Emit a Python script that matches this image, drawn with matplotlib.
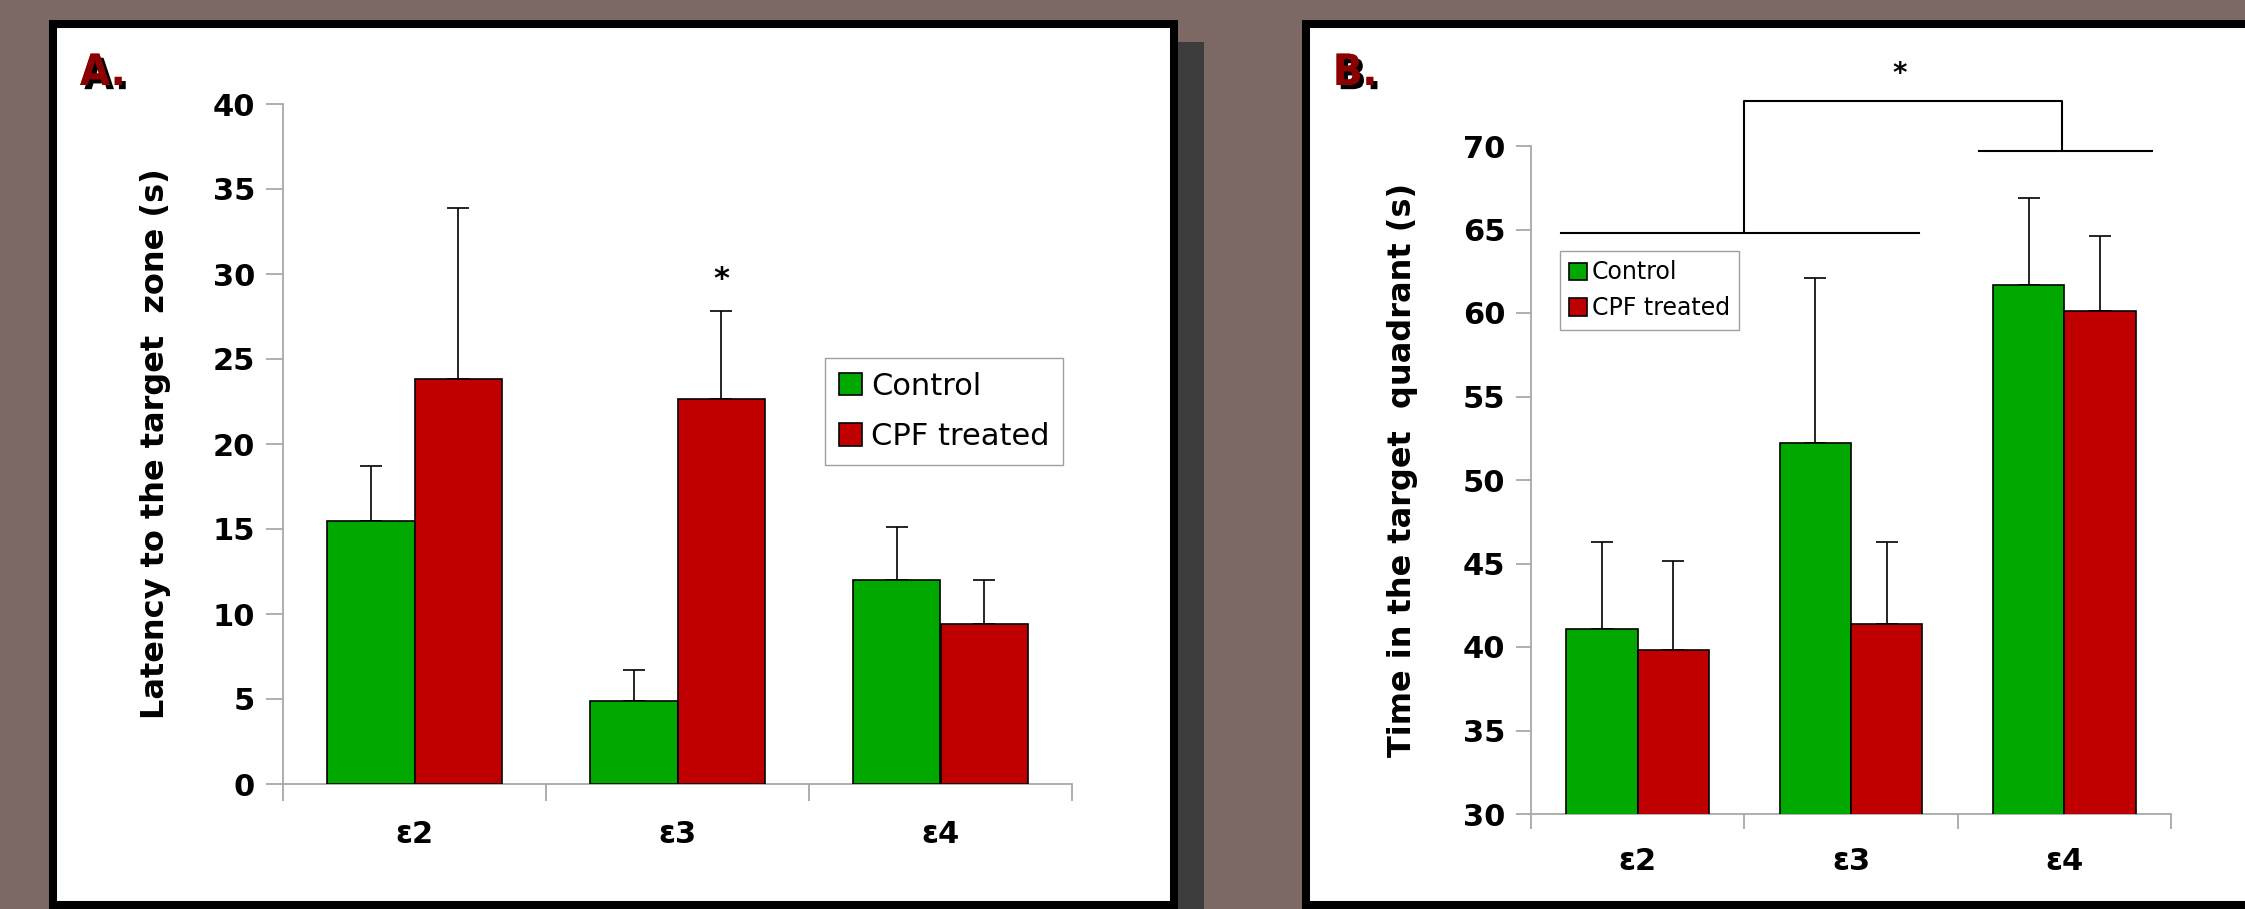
import matplotlib
matplotlib.use('Agg')
import matplotlib.pyplot as plt
import matplotlib.patheffects as pe
from matplotlib.patches import Rectangle
import numpy as np

# data
groups = ['ε2', 'ε3', 'ε4']
series = ['Control', 'CPF treated']

lat_control = [15.5, 4.9, 12.0]
lat_control_err = [3.2, 1.8, 3.1]
lat_cpf = [23.8, 22.65, 9.4]
lat_cpf_err = [10.1, 5.15, 2.6]

quad_control = [41.1, 52.2, 61.7]
quad_control_err = [5.2, 9.9, 5.2]
quad_cpf = [39.8, 41.4, 60.1]
quad_cpf_err = [5.35, 4.9, 4.5]

# significance marks of panel B (x in category units, y in seconds)
sig_left = ([-0.36, 1.32], 64.8)
sig_right = ([1.6, 2.41], 69.7)
sig_bracket = ([0.5, 0.5, 1.99, 1.99], [64.8, 72.7, 72.7, 69.7])

GREEN = '#00a800'
RED = '#c00000'
W, H = 2245, 909

plt.rcParams['font.family'] = ['DejaVu Sans']


def fx(px):
    return px / W


def fy(py):
    return 1 - py / H


def panel(ax, ctrl, ctrl_err, cpf, cpf_err, lo, hi, width, ylabel, lab_x, lab_y,
          tick_len, xpad):
    x = np.arange(len(groups))
    b1 = ax.bar(x - width / 2, ctrl, width, bottom=0, color=GREEN, edgecolor='black',
                linewidth=1.2, label=series[0], zorder=3)
    b2 = ax.bar(x + width / 2, cpf, width, color=RED, edgecolor='black',
                linewidth=1.2, label=series[1], zorder=3)
    ax.errorbar(x - width / 2, ctrl, yerr=[np.zeros(3), ctrl_err], fmt='none',
                ecolor='black', elinewidth=1.2, capsize=8, capthick=1.2, zorder=2)
    ax.errorbar(x + width / 2, cpf, yerr=[np.zeros(3), cpf_err], fmt='none',
                ecolor='black', elinewidth=1.2, capsize=8, capthick=1.2, zorder=2)
    ax.set_xlim(-0.5, 2.5)
    ax.set_ylim(lo, hi)
    ax.set_yticks(np.arange(lo, hi + 1, 5))
    ax.set_xticks([-0.5, 0.5, 1.5, 2.5], labels=[])
    ax.set_xticks(x, labels=groups, minor=True)
    ax.tick_params(axis='x', which='minor', length=0, pad=xpad, labelsize=22)
    ax.tick_params(axis='x', which='major', length=tick_len, width=1.3, color='#a8a8a8')
    ax.tick_params(axis='y', length=tick_len, width=1.3, color='#a8a8a8', pad=8,
                   labelsize=22)
    for t in ax.get_xticklabels(minor=True) + ax.get_yticklabels():
        t.set_fontweight('bold')
    for s in ['top', 'right']:
        ax.spines[s].set_visible(False)
    for s in ['left', 'bottom']:
        ax.spines[s].set_color('#a8a8a8')
        ax.spines[s].set_linewidth(1.3)
    ax.set_facecolor('none')
    ax.set_ylabel(ylabel, fontsize=23, fontweight='bold', va='center')
    ax.yaxis.set_label_coords(lab_x, lab_y)
    return b1, b2


fig = plt.figure(figsize=(W / 100, H / 100), dpi=100)
fig.patch.set_facecolor('#7d6963')

bg = fig.add_axes([0, 0, 1, 1], zorder=0)
bg.set_xlim(0, W)
bg.set_ylim(H, 0)
bg.axis('off')
bg.add_patch(Rectangle((1178, 42), 26, 870, facecolor='#3c3c3c', edgecolor='none'))
bg.add_patch(Rectangle((53, 24), 1121, 881, facecolor='white', edgecolor='black',
                       linewidth=5.8))
bg.add_patch(Rectangle((1306, 24), 960, 881, facecolor='white', edgecolor='black',
                       linewidth=5.8))

# panel A
axA = fig.add_axes([fx(283), fy(784), fx(1072) - fx(283), fy(104) - fy(784)], zorder=1)
panel(axA, lat_control, lat_control_err, lat_cpf, lat_cpf_err, 0, 40, 0.333,
      'Latency to the target  zone (s)', -0.162, 0.5, 12, 26)
axA.text(1 + 0.333 / 2, 29.7, '*', ha='center', va='center', fontsize=22,
         fontweight='bold')
axA.legend(loc='upper left', bbox_to_anchor=(fx(825), fy(358)),
           bbox_transform=fig.transFigure, borderaxespad=0, fontsize=22,
           frameon=True, fancybox=False, edgecolor='#a0a0a0', framealpha=1,
           handlelength=0.75, handleheight=0.75, handletextpad=0.3,
           labelspacing=0.7, borderpad=0.45)

# panel B
axB = fig.add_axes([fx(1531), fy(814), fx(2171) - fx(1531), fy(146) - fy(814)], zorder=1)
panel(axB, quad_control, quad_control_err, quad_cpf, quad_cpf_err, 30, 70, 0.335,
      'Time in the target  quadrant (s)', -0.2, 0.515, 10.5, 24)
axB.plot(sig_left[0], [sig_left[1]] * 2, color='black', lw=1.5, clip_on=False)
axB.plot(sig_right[0], [sig_right[1]] * 2, color='black', lw=1.5, clip_on=False)
axB.plot(sig_bracket[0], sig_bracket[1], color='black', lw=1.5, clip_on=False)
axB.text(1.23, 74.3, '*', ha='center', va='center', fontsize=20, fontweight='bold')
axB.legend(loc='upper left', bbox_to_anchor=(fx(1560), fy(251)),
           bbox_transform=fig.transFigure, borderaxespad=0, fontsize=17,
           frameon=True, fancybox=False, edgecolor='#a0a0a0', framealpha=1,
           handlelength=0.75, handleheight=0.75, handletextpad=0.2,
           labelspacing=0.5, borderpad=0.4)

shadow = [pe.withSimplePatchShadow(offset=(3, -3), shadow_rgbFace='black', alpha=1),
          pe.Normal()]
for lx, txt in [(80, 'A.'), (1333, 'B.')]:
    fig.text(fx(lx), fy(52), txt, ha='left', va='top', fontsize=31, fontweight='bold',
             fontstretch='condensed', color='#8b0000', path_effects=shadow, zorder=5)

fig.savefig('out.png', dpi=100, facecolor=fig.get_facecolor())
